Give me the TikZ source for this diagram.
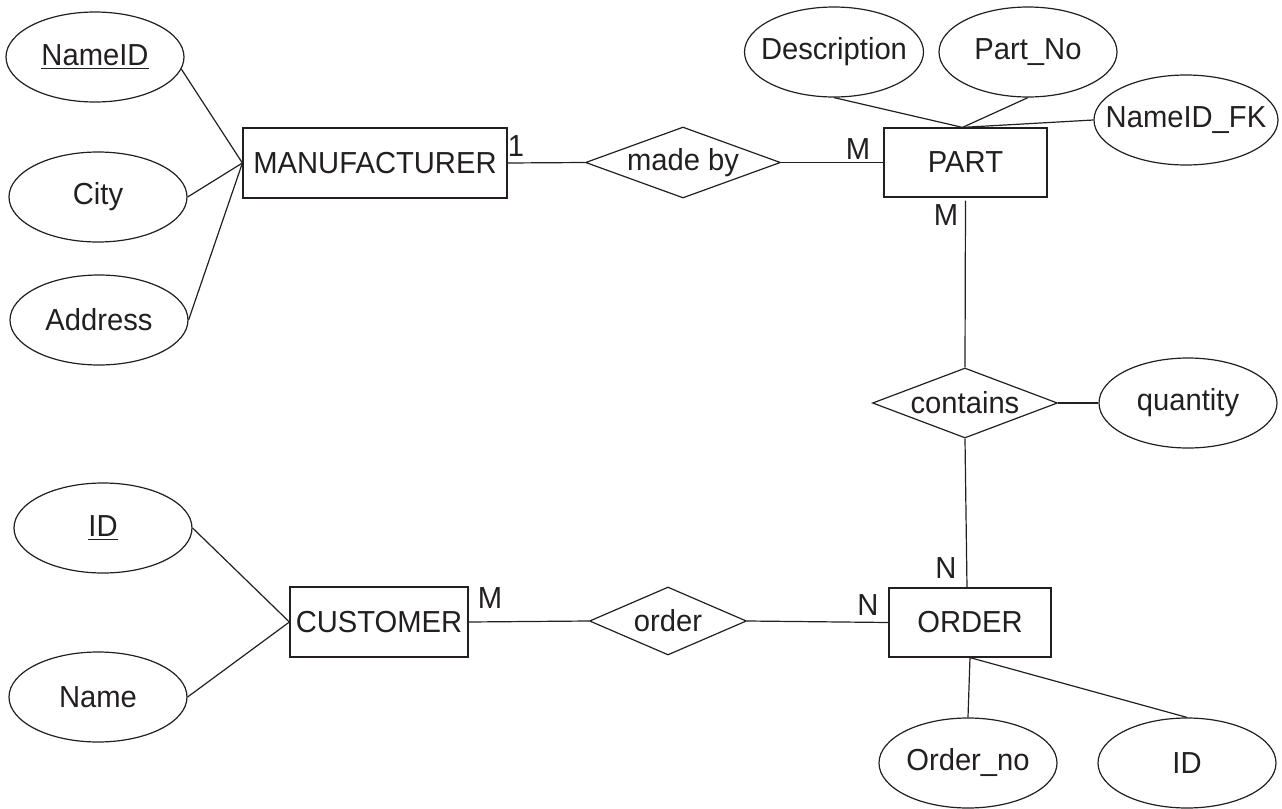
\documentclass[tikz,border=0pt]{standalone}
\usepackage{fontspec}
\setmainfont[FakeStretch=0.96]{Liberation Sans}
\usetikzlibrary{shapes.geometric}
\definecolor{ink}{HTML}{231F20}
\tikzset{
  every node/.style={font=\fontsize{15.2}{17}\selectfont, text=ink},
  attr/.style={draw=ink, line width=0.6pt, ellipse, inner sep=0pt, minimum width=89pt, minimum height=45pt},
  ent/.style={draw=ink, line width=0.6pt, rectangle, inner sep=0pt},
  rel/.style={draw=ink, line width=0.6pt, diamond, inner sep=0pt},
  conn/.style={draw=ink, line width=0.6pt},
  card/.style={inner sep=0pt}
}
\begin{document}
\begin{tikzpicture}[x=0.5pt,y=-0.5pt]
\useasboundingbox (0,0) rectangle (1282,809);

% entities
\node[ent, minimum width=132pt, minimum height=35pt] (man) at (375,163) {MANUFACTURER};
\node[ent, minimum width=81.5pt, minimum height=34.5pt] (part) at (965.5,162.5) {PART};
\node[ent, minimum width=89pt, minimum height=35pt] (cust) at (379,622) {CUSTOMER};
\node[ent, minimum width=81pt, minimum height=34.5pt] (ord) at (970,622.5) {ORDER};

% relationships
\node[rel, minimum width=97.5pt, minimum height=35.5pt] (madeby) at (683,162.5) {\makebox[0pt]{made by}};
\node[rel, minimum width=92.5pt, minimum height=35pt] (contains) at (965,403) {\makebox[0pt]{contains}};
\node[rel, minimum width=78.5pt, minimum height=34pt] (orderrel) at (668,621) {\makebox[0pt]{order}};

% attributes
\node[attr] (nameid) at (95,57) {\makebox[0pt]{\underline{NameID}}};
\node[attr] (city) at (98,197) {\makebox[0pt]{City}};
\node[attr] (addr) at (99,320) {\makebox[0pt]{Address}};
\node[attr, minimum width=89.5pt] (desc) at (834,52) {\makebox[0pt]{Description}};
\node[attr] (partno) at (1028,52) {\makebox[0pt]{Part\_No}};
\node[attr, minimum width=92pt] (nfk) at (1186,120) {\makebox[0pt]{NameID\_FK}};
\node[attr] (qty) at (1188,403) {\makebox[0pt]{quantity}};
\node[attr] (cid) at (103,528) {\makebox[0pt]{\underline{ID}}};
\node[attr] (cname) at (98,697) {\makebox[0pt]{Name}};
\node[attr] (ordno) at (968,763) {\makebox[0pt]{Order\_no}};
\node[attr] (oid) at (1187,763) {\makebox[0pt]{ID}};

% cardinalities
\node[card] (c1) at (516,146) {1};
\node[card] (c2) at (858,149) {M};
\node[card] (c3) at (946,215) {M};
\node[card] (c4) at (946,568) {N};
\node[card] (c5) at (490,598) {M};
\node[card] (c6) at (868,605) {N};

% connectors
\draw[conn] (nameid.-8) -- (man.west);
\draw[conn] (city.east) -- (man.west);
\draw[conn] (addr.east) -- (man.west);
\draw[conn] (man.east) -- (madeby.west);
\draw[conn] (madeby.east) -- (part.west);
\draw[conn] (desc.south) -- ([xshift=-1.5pt]part.north);
\draw[conn] (partno.south) -- ([xshift=-1.5pt]part.north);
\draw[conn] (nfk.west) -- ([xshift=-1.5pt]part.north);
\draw[conn] ([yshift=-1.5pt]part.south) -- (contains.north);
\draw[conn] (contains.east) -- (qty.west);
\draw[conn] (contains.south) -- ([xshift=-1.5pt]ord.north);
\draw[conn] (cid.east) -- (cust.west);
\draw[conn] (cname.east) -- (cust.west);
\draw[conn] (cust.east) -- (orderrel.west);
\draw[conn] (orderrel.east) -- (ord.west);
\draw[conn] (ord.south) -- (ordno.north);
\draw[conn] (ord.south) -- (oid.north);
\end{tikzpicture}
\end{document}
